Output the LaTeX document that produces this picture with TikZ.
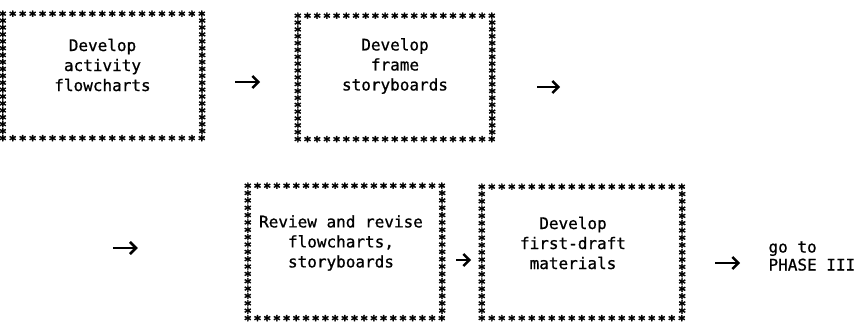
\documentclass[tikz,border=0pt]{standalone}
\usepackage{fontspec}
\setmonofont[FakeBold=0.8]{DejaVu Sans Mono}
\newfontfamily\starfont[FakeBold=2.5]{DejaVu Sans Mono Bold}
\usetikzlibrary{decorations.markings,arrows.meta}

\tikzset{
  starmark/.style={font=\starfont\fontsize{13}{13}\selectfont,
    inner sep=0pt, anchor=base},
  starline/.style={decorate, decoration={markings,
      mark=between positions #1 with {\node[starmark] {\raisebox{-0.58em}[1.5pt][1.5pt]{*}};}}},
}

\begin{document}
\begin{tikzpicture}
    [x=1pt, y=-1pt,
      framebox/.style={inner sep=0pt},
      boxtext/.style={font=\ttfamily\fontsize{16}{20}\selectfont, align=center},
      steparrow/.style={line width=1.3pt,
        -{Straight Barb[length=6pt,width=12pt,line width=2.6pt]}},
     ]
    \useasboundingbox (0,0) rectangle (856,329);

    % top row
    \node[framebox, minimum width=199pt, minimum height=124pt] (flow) at (102.5,75) {};
    \node[framebox, minimum width=194pt, minimum height=123pt] (story) at (395,76.5) {};
    % bottom row
    \node[framebox, minimum width=194pt, minimum height=132pt] (review) at (345,251) {};
    \node[framebox, minimum width=200pt, minimum height=131pt] (draft) at (582,251.5) {};

    % typed asterisk borders (rows carry the corners)
    \foreach \b in {flow,story,review,draft} {
      \path[starline={0 and 1 step 0.0499}] (\b.north west) -- (\b.north east);
      \path[starline={0 and 1 step 0.0499}] (\b.south west) -- (\b.south east);
      \path[starline={0.0555 and 0.95 step 0.0555}] (\b.north west) -- (\b.south west);
      \path[starline={0.0555 and 0.95 step 0.0555}] (\b.north east) -- (\b.south east);
    }

    \node[boxtext] (flowtxt) at ([yshift=10pt]flow.center) {Develop\\activity\\flowcharts};
    \node[boxtext] (storytxt) at ([yshift=10.5pt]story.center) {Develop\\frame\\storyboards};
    \node[boxtext] (reviewtxt) at ([xshift=-4pt,yshift=8pt]review.center) {Review and revise\\flowcharts,\\storyboards};
    \node[boxtext] (drafttxt) at ([xshift=-9pt,yshift=8.5pt]draft.center) {Develop\\first-draft\\materials};
    \node[boxtext, align=left, anchor=west,
      font=\ttfamily\fontsize{16}{18}\selectfont] (phase) at (765,256) {go to\\PHASE III};

    \draw[steparrow] ([xshift=33pt,yshift=-7pt]flow.east) -- ++(25,0);
    \draw[steparrow] ([xshift=45pt,yshift=-10.5pt]story.east) -- ++(23,0);
    \draw[steparrow] ([xshift=-135pt,yshift=3pt]review.west) -- ++(25,0);
    \draw[steparrow] ([xshift=14pt,yshift=-9pt]review.east) -- ++(15,0);
    \draw[steparrow] ([xshift=33pt,yshift=-11.5pt]draft.east) -- ++(25,0);
\end{tikzpicture}
\end{document}
